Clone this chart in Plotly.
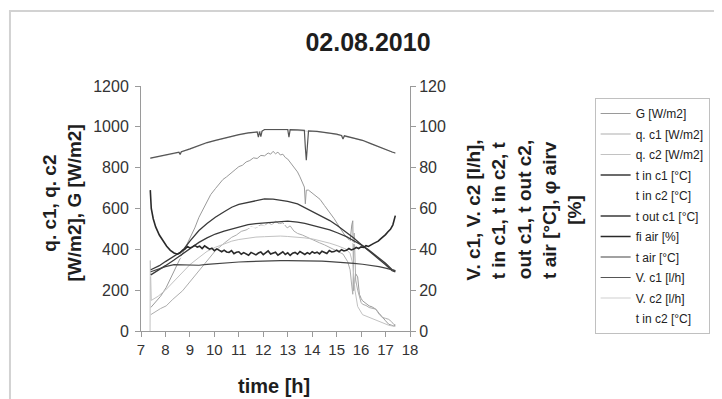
import plotly.graph_objects as go

# ---------------- data ----------------
x_ticks = [7, 8, 9, 10, 11, 12, 13, 14, 15, 16, 17, 18]
y_left_ticks = [0, 200, 400, 600, 800, 1000, 1200]
y_right_ticks = [0, 20, 40, 60, 80, 100, 120]

# smooth temperature series grid [h]
T = [7.4, 7.75, 8.0, 8.35, 8.7, 9.0, 9.37, 9.7, 10.04, 10.4, 10.71, 11.0, 11.38, 11.7,
     12.05, 12.4, 12.7, 13.0, 13.4, 13.7, 14.05, 14.4, 14.72, 15.05, 15.4, 15.7, 16.06,
     16.33, 16.73, 17.0, 17.27, 17.4]
t_out_c1 = [30, 32, 34, 36.5, 39.3, 44, 49.2, 52.7, 55.7, 58.4, 60.6, 62, 63.1, 64,
            64.7, 64.6, 64.2, 63.5, 62.3, 60.5, 58.2, 56.3, 54.1, 51.4, 48.4, 45.5, 41.8,
            39.3, 35.2, 32.5, 29.5, 29]
t_in_c1 = [27.5, 30, 32, 34.8, 37.7, 40.5, 43.4, 45.6, 47.5, 48.9, 50, 51, 52.1, 52.6,
           52.9, 53.4, 53.7, 53.8, 53.3, 52.7, 51.6, 50.6, 49.5, 48, 46.2, 44.2, 41.8,
           39.5, 36, 33.2, 30, 29.5]
t_air = [29, 30.5, 31.5, 32.5, 32.5, 32.3, 32.2, 32.6, 33.0, 33.3, 33.6, 33.8, 34.0, 34.2,
         34.3, 34.4, 34.5, 34.5, 34.5, 34.4, 34.3, 34.2, 34.0, 33.8, 33.5, 33.1, 32.7,
         32.3, 31.5, 30.8, 30.0, 29.6]
# collector 2 inlet (not visible in the reference; estimated, drawn in white)
t_in_c2 = [27, 29.5, 31.5, 34, 36.8, 39.5, 42.3, 44.4, 46.2, 47.6, 48.7, 49.6, 50.6, 51.1,
           51.4, 51.8, 52.1, 52.2, 51.7, 51.1, 50.1, 49.1, 48.0, 46.6, 44.9, 43.0, 40.7,
           38.5, 35.2, 32.6, 29.6, 29.1]

# relative humidity (noisy)
fi_time = [7.38, 7.42, 7.5, 7.6, 7.75, 7.9, 8.05, 8.2, 8.35, 8.5, 8.6, 8.7, 8.8, 8.9, 9.0,
           9.1, 9.2, 9.3, 9.4, 9.5, 9.6, 9.7, 9.8, 9.9, 10.0, 10.1, 10.2, 10.3, 10.4, 10.5,
           10.6, 10.7, 10.8, 10.9, 11.0, 11.1, 11.2, 11.3, 11.4, 11.5, 11.6, 11.7, 11.8,
           11.9, 12.0, 12.1, 12.2, 12.3, 12.4, 12.5, 12.6, 12.7, 12.8, 12.9, 13.0, 13.1,
           13.2, 13.3, 13.4, 13.5, 13.6, 13.7, 13.8, 13.9, 14.0, 14.1, 14.2, 14.3, 14.4,
           14.5, 14.6, 14.7, 14.8, 14.9, 15.0, 15.1, 15.2, 15.3, 15.4, 15.5, 15.6, 15.7,
           15.8, 15.9, 16.0, 16.1, 16.2, 16.3, 16.4, 16.5, 16.6, 16.7, 16.8, 16.9, 17.0,
           17.1, 17.2, 17.3, 17.35, 17.4]
fi_air = [69, 60, 55, 51, 47, 44, 41.5, 39.5, 38.2, 37.6, 38.3, 39.6, 40.1, 41.4, 40.7,
          41.2, 41.9, 41.1, 41.5, 40.4, 41.7, 40.9, 40.1, 40.6, 39.3, 40.2, 39.7, 38.8, 39.6,
          38.7, 38.5, 39.4, 37.9, 38.6, 38.8, 37.6, 38.4, 37.9, 37.1, 38.5, 37.8, 37.3,
          38.2, 38.7, 37.4, 38.1, 39.2, 37.7, 38.0, 38.6, 37.1, 37.9, 38.8, 37.5, 38.3,
          37.0, 38.1, 38.5, 37.6, 38.9, 38.2, 37.5, 38.4, 37.7, 38.8, 38.1, 38.6, 37.8,
          39.1, 38.4, 38.0, 39.4, 38.7, 38.9, 39.6, 38.8, 39.8, 39.2, 39.5, 40.4, 39.7,
          40.1, 40.9, 40.4, 41.2, 40.9, 41.8, 41.4, 42.3, 42.8, 43.4, 44.0, 45.1, 46.0,
          47.2, 48.6, 49.8, 52.0, 54, 56.5]

# flow c1 (top line)
v1_time = [7.38, 7.6, 8.0, 8.3, 8.55, 8.6, 8.65, 9.0, 9.37, 9.7, 10.04, 10.4, 10.71, 11.0,
           11.38, 11.75, 11.8, 11.85, 11.9, 11.95, 12.05, 12.4, 12.7, 13.0, 13.05, 13.1,
           13.4, 13.68, 13.72, 13.76, 13.8, 13.85, 14.2, 14.72, 15.0, 15.2, 15.26, 15.32,
           15.7, 16.06, 16.4, 16.73, 17.0, 17.27, 17.4]
v_c1 = [84.7, 85.2, 86.0, 86.8, 87.6, 86.4, 87.8, 89.2, 91.0, 92.3, 93.4, 94.5, 95.4, 96.2,
        97.0, 97.5, 95.0, 97.6, 95.2, 97.9, 98.7, 98.8, 98.8, 98.7, 95.0, 98.6,
        98.5, 98.3, 90, 83.6, 90, 98.0, 97.8, 97.0, 96.4, 95.8, 94.0, 95.6,
        94.6, 93.4, 91.8, 90.1, 88.8, 87.7, 87.2]
# flow c2 (hidden under flow c1 in the reference)
v_c2 = [84.5, 85.0, 85.8, 86.6, 87.4, 87.4, 87.6, 89.0, 90.8, 92.1, 93.2, 94.3, 95.2, 96.0,
        96.8, 97.3, 97.3, 97.4, 97.4, 97.7, 98.5, 98.6, 98.6, 98.5, 98.5, 98.4,
        98.3, 98.1, 98.0, 97.9, 97.8, 97.8, 97.6, 96.8, 96.2, 95.6, 95.5, 95.4,
        94.4, 93.2, 91.6, 89.9, 88.6, 87.5, 87.0]

# global irradiance
g_time = [7.4, 7.6, 7.8, 8.03, 8.2, 8.43, 8.6, 8.83, 9.0, 9.2, 9.37, 9.55, 9.7, 9.85, 10.04,
          10.2, 10.35, 10.5, 10.71, 10.85, 11.0, 11.15, 11.3, 11.45, 11.6, 11.75, 11.9,
          12.05, 12.2, 12.3, 12.4, 12.5, 12.6, 12.7, 12.8, 12.9, 13.0, 13.1, 13.2, 13.3,
          13.4, 13.5, 13.6, 13.68, 13.72, 13.76, 13.85, 14.0, 14.15, 14.32, 14.5, 14.72,
          14.9, 15.12, 15.3, 15.45, 15.55, 15.62, 15.66, 15.7, 15.78, 15.86, 15.93, 16.0,
          16.06, 16.2, 16.33, 16.45, 16.6, 16.75, 16.87, 17.0, 17.13, 17.25, 17.33, 17.4]
g = [115, 140, 170, 213, 255, 311, 355, 410, 455, 505, 557, 600, 640, 668, 697,
     718, 742, 755, 779, 790, 805, 812, 828, 835, 848, 845, 860,
     858, 872, 866, 880, 868, 876, 862, 866, 850, 842, 825, 812, 795,
     779, 755, 728, 705, 623, 690, 690, 675, 660, 645, 615, 582,
     550, 508, 475, 455, 440, 520, 540, 197, 280, 265, 180, 160,
     148, 135, 123, 118, 107, 85, 66, 50, 33, 30, 25, 28]

# heat gain collector 1 (noisy)
q1_time = [7.4, 7.6, 7.8, 8.03, 8.3, 8.7, 9.0, 9.37, 9.7, 10.04, 10.4, 10.71, 10.9, 11.1,
           11.3, 11.5, 11.7, 11.9, 12.05, 12.2, 12.35, 12.5, 12.65, 12.8, 12.98, 13.1,
           13.25, 13.4, 13.6, 13.8, 14.05, 14.3, 14.5, 14.72, 15.0, 15.26, 15.45, 15.55,
           15.62, 15.66, 15.72, 15.78, 15.86, 16.0, 16.06, 16.2, 16.33, 16.45, 16.6, 16.75,
           16.87, 17.0, 17.13, 17.25, 17.33, 17.4]
q_c1 = [80, 95, 110, 123, 155, 197, 240, 295, 345, 393, 430, 459, 470, 488,
        495, 510, 505, 520, 515, 532, 520, 538, 525, 530, 505, 515,
        490, 478, 470, 458, 445, 432, 422, 410, 395, 377, 340, 300,
        220, 180, 480, 250, 200, 140, 131, 125, 115, 112, 107, 80,
        66, 62, 57, 45, 33, 30]

# heat gain collector 2 (smooth)
q2_time = [7.37, 7.38, 7.42, 7.7, 8.0, 8.35, 8.7, 9.0, 9.37, 9.7, 10.04, 10.4, 10.71, 11.0,
           11.38, 11.7, 12.05, 12.4, 12.7, 13.0, 13.4, 13.7, 14.05, 14.4, 14.72, 15.05,
           15.4, 15.55, 15.66, 15.75, 15.86, 16.06, 16.33, 16.6, 16.87, 17.13, 17.4]
q_c2 = [0, 345, 150, 170, 200, 245, 290, 325, 360, 390, 410, 428, 440, 448,
        455, 460, 462, 464, 465, 463, 460, 456, 450, 441, 430, 417,
        400, 380, 330, 200, 120, 80, 66, 55, 40, 28, 22]

# ---------------- figure ----------------
# The page body has an 8 px margin; figure is sized so it fits the 722x399 window.
OFF = 8
FW, FH = 722 - OFF, 399 - OFF
PL, PR, PT, PB = 141, 412, 86, 331   # plot area in page pixels


def xp(px):
    return (px - PL) / (PR - PL)


def yp(py):
    return (PB - py) / (PB - PT)


fig = go.Figure()


def add(name, xs, ys, color, width, axis, rank):
    fig.add_trace(go.Scatter(x=xs, y=ys, name=name, mode="lines",
                             line=dict(color=color, width=width),
                             yaxis=axis, showlegend=True, legendrank=rank,
                             legendgroup="g%d" % rank))


# hidden/faint series first (drawn underneath)
add("t in c2 [°C]", T, t_in_c2, "#ffffff", 1, "y2", 5)
add("t in c2 [°C] ", T, t_in_c2, "#ffffff", 1, "y2", 11)
add("V. c2 [l/h]", v1_time, v_c2, "#cfcfcf", 1, "y2", 10)
add("G [W/m2]", g_time, g, "#9a9a9a", 1, "y", 1)
add("q. c1 [W/m2]", q1_time, q_c1, "#adadad", 1, "y", 2)
add("q. c2 [W/m2]", q2_time, q_c2, "#c2c2c2", 1, "y", 3)
add("t in c1 [°C]", T, t_in_c1, "#3a3a3a", 1.3, "y2", 4)
add("t out c1 [°C]", T, t_out_c1, "#3a3a3a", 1.3, "y2", 6)
add("fi air [%]", fi_time, fi_air, "#2a2a2a", 1.6, "y2", 7)
add("t air [°C]", T, t_air, "#444444", 1.2, "y2", 8)
add("V. c1 [l/h]", v1_time, v_c1, "#555555", 1.2, "y2", 9)

FONT = "Liberation Sans, Arial, sans-serif"
axis_common = dict(showgrid=False, zeroline=False, showline=True, linecolor="#9a9a9a",
                   linewidth=1, ticks="outside", ticklen=5, tickcolor="#9a9a9a",
                   automargin=False)

fig.update_layout(
    width=FW, height=FH, autosize=False,
    margin=dict(l=PL - OFF, r=FW - (PR - OFF), t=PT - OFF, b=FH - (PB - OFF), pad=0),
    paper_bgcolor="white", plot_bgcolor="white",
    font=dict(family=FONT, color="#333333"),
    title=dict(text="<b>02.08.2010</b>", x=(368 - OFF) / FW, xanchor="center",
               y=1 - (42 - OFF) / FH, yanchor="middle", xref="container", yref="container",
               font=dict(size=25, color="#1e1e1e", family=FONT)),
    xaxis=dict(range=[7, 18], tickvals=x_ticks, ticktext=[str(v) for v in x_ticks],
               tickfont=dict(size=15, color="#333"), **axis_common),
    yaxis=dict(range=[0, 1200], tickvals=y_left_ticks, ticklabelstandoff=3,
               tickfont=dict(size=16, color="#333"), **axis_common),
    yaxis2=dict(range=[0, 120], tickvals=y_right_ticks, overlaying="y", side="right",
                tickfont=dict(size=16, color="#333"), **axis_common),
    legend=dict(x=xp(598), y=yp(98), xanchor="left", yanchor="top",
                bordercolor="#c0c0c0", borderwidth=1, bgcolor="white",
                font=dict(size=12, color="#222", family=FONT),
                tracegroupgap=1.5, itemwidth=30),
    showlegend=True,
)

annots = []
annots.append(dict(text="<b>time [h]</b>", x=xp(275), y=yp(386), xref="paper", yref="paper",
                   showarrow=False, font=dict(size=20, color="#1e1e1e", family=FONT),
                   xanchor="center", yanchor="middle"))
for txt, px in [("q. c1, q. c2", 48), ("[W/m2], G [W/m2]", 73)]:
    annots.append(dict(text="<b>" + txt + "</b>", x=xp(px), y=yp(203), xref="paper",
                       yref="paper", showarrow=False, textangle=-90,
                       font=dict(size=19, color="#1e1e1e", family=FONT),
                       xanchor="center", yanchor="middle"))
for txt, px in [("V. c1, V. c2 [l/h],", 475), ("t in c1, t in c2, t", 501),
                ("out c1, t out c2,", 527), ("t air [°C], φ airv", 552), ("[%]", 577)]:
    annots.append(dict(text="<b>" + txt + "</b>", x=xp(px), y=yp(210), xref="paper",
                       yref="paper", showarrow=False, textangle=-90,
                       font=dict(size=19, color="#1e1e1e", family=FONT),
                       xanchor="center", yanchor="middle"))
fig.update_layout(annotations=annots)

# outer chart frame (left and top edges visible in the reference)
fig.add_shape(type="line", xref="paper", yref="paper", x0=xp(9), x1=xp(9), y0=yp(11), y1=yp(399),
              line=dict(color="#d2d2d2", width=2))
fig.add_shape(type="line", xref="paper", yref="paper", x0=xp(8), x1=xp(722), y0=yp(11), y1=yp(11),
              line=dict(color="#d2d2d2", width=2))

fig.write_html("out.html")
